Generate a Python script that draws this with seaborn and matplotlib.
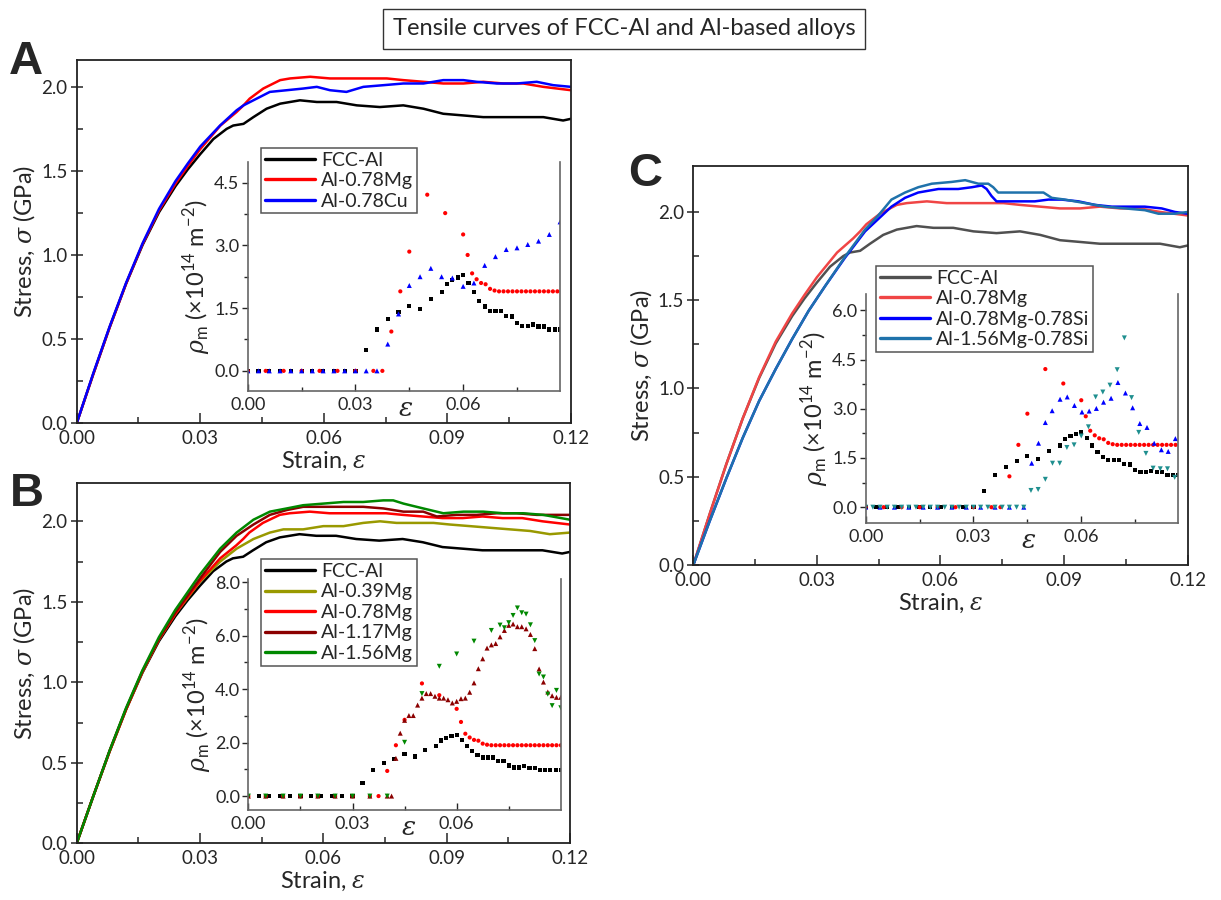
import matplotlib
matplotlib.use("Agg")
import matplotlib.pyplot as plt
from matplotlib.lines import Line2D
from matplotlib.ticker import FormatStrFormatter
import seaborn as sns

# ---------------- stress-strain curves (strain, stress in GPa) ----------------
fcc_strain = [0.0, 0.004, 0.008, 0.012, 0.016, 0.020, 0.024, 0.027, 0.030, 0.0332, 0.0364, 0.038,
              0.0405, 0.0429, 0.0461, 0.0494, 0.0542, 0.0583, 0.0631, 0.068, 0.0736, 0.0793, 0.0842,
              0.089, 0.0939, 0.0987, 0.1036, 0.1084, 0.1133, 0.1181, 0.12]
fcc_stress = [0.0, 0.29, 0.57, 0.83, 1.06, 1.255, 1.41, 1.51, 1.60, 1.69, 1.75, 1.77,
              1.78, 1.82, 1.87, 1.90, 1.92, 1.91, 1.91, 1.89, 1.88, 1.89, 1.87,
              1.84, 1.83, 1.82, 1.82, 1.82, 1.82, 1.80, 1.81]

mg078_strain = [0.0, 0.004, 0.008, 0.012, 0.016, 0.020, 0.024, 0.027, 0.030, 0.0349, 0.0388, 0.0405,
                0.042, 0.0453, 0.0494, 0.0518, 0.0567, 0.0615, 0.0664, 0.0712, 0.0753, 0.0793, 0.0842,
                0.089, 0.0939, 0.0987, 0.1036, 0.1084, 0.1133, 0.12]
mg078_stress = [0.0, 0.29, 0.57, 0.83, 1.065, 1.265, 1.425, 1.53, 1.63, 1.77, 1.85, 1.89,
                1.93, 1.99, 2.04, 2.05, 2.06, 2.05, 2.05, 2.05, 2.05, 2.04, 2.03,
                2.02, 2.02, 2.03, 2.02, 2.02, 2.00, 1.98]

cu078_strain = [0.0, 0.004, 0.008, 0.012, 0.016, 0.020, 0.024, 0.027, 0.030, 0.0348, 0.0388, 0.0405,
                0.0437, 0.0469, 0.051, 0.055, 0.0583, 0.0615, 0.0655, 0.0696, 0.0745, 0.0793, 0.0842,
                0.089, 0.0939, 0.0971, 0.102, 0.1068, 0.1117, 0.1157, 0.12]
cu078_stress = [0.0, 0.295, 0.575, 0.835, 1.07, 1.275, 1.44, 1.545, 1.645, 1.77, 1.86, 1.89,
                1.93, 1.97, 1.98, 1.99, 2.00, 1.98, 1.97, 2.00, 2.01, 2.02, 2.02,
                2.04, 2.04, 2.03, 2.02, 2.02, 2.03, 2.01, 2.00]

mg039_strain = [0.0, 0.004, 0.008, 0.012, 0.016, 0.020, 0.024, 0.027, 0.030, 0.0349, 0.0389, 0.043,
                0.047, 0.0503, 0.0551, 0.060, 0.0649, 0.0697, 0.0738, 0.0778, 0.0827, 0.0868, 0.0908,
                0.0957, 0.1005, 0.1054, 0.1103, 0.1151, 0.12]
mg039_stress = [0.0, 0.29, 0.57, 0.83, 1.065, 1.265, 1.425, 1.525, 1.625, 1.75, 1.83, 1.89,
                1.93, 1.95, 1.95, 1.97, 1.97, 1.99, 2.00, 1.99, 1.99, 1.99, 1.98,
                1.97, 1.96, 1.95, 1.94, 1.92, 1.93]

mg117_strain = [0.0, 0.004, 0.008, 0.012, 0.016, 0.020, 0.024, 0.027, 0.030, 0.0349, 0.0389, 0.043,
                0.047, 0.0511, 0.0551, 0.060, 0.0649, 0.0697, 0.0746, 0.0795, 0.0843, 0.0876, 0.0924,
                0.0973, 0.1022, 0.107, 0.1119, 0.12]
mg117_stress = [0.0, 0.29, 0.575, 0.835, 1.07, 1.27, 1.435, 1.54, 1.645, 1.81, 1.91, 1.98,
                2.04, 2.07, 2.09, 2.09, 2.09, 2.09, 2.08, 2.06, 2.06, 2.03, 2.04,
                2.04, 2.05, 2.05, 2.04, 2.04]

mg156_strain = [0.0, 0.004, 0.008, 0.012, 0.016, 0.020, 0.024, 0.027, 0.030, 0.0349, 0.0389, 0.043,
                0.047, 0.0511, 0.0551, 0.060, 0.0649, 0.0697, 0.0746, 0.077, 0.0795, 0.0843, 0.0892,
                0.0941, 0.0989, 0.1038, 0.1086, 0.1135, 0.12]
mg156_stress = [0.0, 0.29, 0.575, 0.84, 1.075, 1.28, 1.45, 1.56, 1.67, 1.83, 1.93, 2.01,
                2.06, 2.08, 2.10, 2.11, 2.12, 2.12, 2.13, 2.13, 2.11, 2.08, 2.05,
                2.06, 2.06, 2.05, 2.05, 2.04, 2.01]

mgsi_strain = [0.0, 0.004, 0.008, 0.012, 0.016, 0.020, 0.024, 0.028, 0.032, 0.0368, 0.0417, 0.0449,
               0.0481, 0.0514, 0.0546, 0.0595, 0.0643, 0.0676, 0.070, 0.0712, 0.0724, 0.0736, 0.0757,
               0.0789, 0.0829, 0.0862, 0.0894, 0.0935, 0.0975, 0.1016, 0.1056, 0.1096, 0.1137, 0.1169, 0.12]
mgsi_stress = [0.0, 0.25, 0.49, 0.72, 0.93, 1.11, 1.28, 1.44, 1.58, 1.74, 1.89, 1.96,
               2.03, 2.08, 2.11, 2.13, 2.13, 2.14, 2.15, 2.13, 2.09, 2.06, 2.06,
               2.06, 2.06, 2.07, 2.07, 2.06, 2.04, 2.03, 2.03, 2.03, 2.02, 2.00, 1.99]

mg156si_strain = [0.0, 0.004, 0.008, 0.012, 0.016, 0.020, 0.024, 0.028, 0.032, 0.0368, 0.0417, 0.0449,
                  0.0481, 0.0514, 0.0546, 0.0579, 0.0627, 0.066, 0.0692, 0.0716, 0.0728, 0.074, 0.0773,
                  0.0821, 0.085, 0.087, 0.0902, 0.0951, 0.0999, 0.1048, 0.1096, 0.1129, 0.1169, 0.12]
mg156si_stress = [0.0, 0.25, 0.49, 0.72, 0.93, 1.11, 1.28, 1.44, 1.58, 1.745, 1.90, 1.98,
                  2.07, 2.11, 2.14, 2.16, 2.17, 2.18, 2.16, 2.16, 2.14, 2.11, 2.11,
                  2.11, 2.11, 2.08, 2.07, 2.05, 2.03, 2.02, 2.01, 1.99, 1.99, 2.00]

# ---------------- mobile dislocation density (x10^14 m^-2) ----------------
fcc_rho_strain = [0.0, 0.003, 0.006, 0.009, 0.012, 0.015, 0.018, 0.021, 0.024, 0.027, 0.030,
                  0.0329, 0.0359, 0.039, 0.042, 0.045, 0.048, 0.051, 0.054, 0.0555, 0.057, 0.0585,
                  0.060, 0.0615, 0.063, 0.0645, 0.066, 0.0675, 0.069, 0.0705, 0.072, 0.0735, 0.075,
                  0.0765, 0.078, 0.0795, 0.081, 0.0825, 0.084, 0.0855, 0.087, 0.0885, 0.090]
fcc_rho = [0.0, 0.0, 0.0, 0.0, 0.0, 0.0, 0.0, 0.0, 0.0, 0.0, 0.0,
           0.50, 0.99, 1.23, 1.40, 1.56, 1.48, 1.72, 1.88, 2.08, 2.17, 2.23,
           2.29, 2.10, 1.88, 1.67, 1.54, 1.44, 1.44, 1.44, 1.32, 1.30, 1.14,
           1.07, 1.07, 1.11, 1.06, 1.06, 0.99, 0.99, 0.99, 0.99, 0.99]

mg078_rho_strain = [0.0, 0.005, 0.010, 0.015, 0.020, 0.025, 0.030, 0.035, 0.0375,
                    0.040, 0.0425, 0.045, 0.050, 0.055, 0.060, 0.06125, 0.0625, 0.06375, 0.065,
                    0.06625, 0.0675, 0.06875, 0.070, 0.07125, 0.0725, 0.07375, 0.075, 0.07625,
                    0.0775, 0.07875, 0.080, 0.08125, 0.0825, 0.08375, 0.085, 0.08625, 0.0875,
                    0.08875, 0.090]
mg078_rho = [0.0, 0.0, 0.0, 0.0, 0.0, 0.0, 0.0, 0.0, 0.0,
             0.94, 1.90, 2.85, 4.21, 3.77, 3.26, 2.77, 2.33, 2.19, 2.10,
             2.07, 1.96, 1.92, 1.90, 1.90, 1.90, 1.90, 1.90, 1.90,
             1.90, 1.90, 1.90, 1.90, 1.90, 1.90, 1.90, 1.90, 1.90,
             1.90, 1.90]

cu078_rho_strain = [0.0, 0.003, 0.006, 0.009, 0.012, 0.015, 0.018, 0.021, 0.024, 0.027, 0.030, 0.033,
                    0.036, 0.039, 0.042, 0.045, 0.048, 0.051, 0.054, 0.057, 0.060, 0.063, 0.066,
                    0.069, 0.072, 0.075, 0.078, 0.081, 0.084, 0.087]
cu078_rho = [0.0, 0.0, 0.0, 0.0, 0.0, 0.0, 0.0, 0.0, 0.0, 0.0, 0.0, 0.0,
             0.0, 0.64, 1.36, 2.04, 2.25, 2.45, 2.25, 2.22, 2.02, 2.10, 2.52,
             2.73, 2.90, 2.94, 3.02, 3.10, 3.26, 3.56]

mg117_rho_strain = [0.0, 0.005, 0.010, 0.015, 0.020, 0.025, 0.030, 0.035, 0.040, 0.04125,
                    0.0425, 0.04375, 0.045, 0.04625, 0.0475, 0.04875, 0.050, 0.05125, 0.0525,
                    0.05375, 0.055, 0.05625, 0.0575, 0.05875, 0.060, 0.06125, 0.0625, 0.06375,
                    0.065, 0.06625, 0.0675, 0.06875, 0.070, 0.07125, 0.0725, 0.07375, 0.075,
                    0.07625, 0.0775, 0.07875, 0.080, 0.08125, 0.0825, 0.08375, 0.085, 0.08625,
                    0.0875, 0.08875, 0.090]
mg117_rho = [0.0, 0.0, 0.0, 0.0, 0.0, 0.0, 0.0, 0.0, 0.0, 0.0,
             1.41, 2.35, 2.83, 3.01, 3.01, 3.40, 3.66, 3.83, 3.83,
             3.73, 3.66, 3.66, 3.60, 3.48, 3.54, 3.64, 3.66, 3.88,
             4.23, 4.76, 5.13, 5.53, 5.65, 5.70, 5.95, 6.19, 6.38,
             6.43, 6.33, 6.33, 6.25, 6.04, 5.51, 4.75, 4.26, 3.89,
             3.75, 3.69, 3.69]

mg156_rho_strain = [0.0, 0.005, 0.010, 0.015, 0.020, 0.025, 0.030, 0.035, 0.040,
                    0.045, 0.050, 0.055, 0.060, 0.065, 0.070, 0.0725, 0.07375, 0.075, 0.07625,
                    0.0775, 0.07875, 0.080, 0.08125, 0.0825, 0.08375, 0.085, 0.08625, 0.0875,
                    0.08875, 0.090]
mg156_rho = [0.0, 0.0, 0.0, 0.0, 0.0, 0.0, 0.0, 0.0, 0.0,
             2.01, 3.83, 4.85, 5.31, 5.79, 6.19, 6.39, 6.29, 6.48, 6.75,
             7.03, 6.85, 6.80, 6.40, 5.81, 4.56, 4.45, 3.81, 3.38,
             3.95, 3.30]

mgsi_rho_strain = [0.0, 0.004, 0.008, 0.012, 0.016, 0.020, 0.024, 0.028, 0.032, 0.036, 0.040, 0.044,
                   0.0462, 0.0481, 0.050, 0.0519, 0.0541, 0.0561, 0.0581, 0.0602, 0.0622, 0.0642,
                   0.0662, 0.0683, 0.0702, 0.0723, 0.0743, 0.0763, 0.0783, 0.0803, 0.0823, 0.0842,
                   0.0862]
mgsi_rho = [0.0, 0.0, 0.0, 0.0, 0.0, 0.0, 0.0, 0.0, 0.0, 0.0, 0.0, 0.0,
            1.34, 1.95, 2.58, 2.94, 3.29, 3.36, 3.10, 2.90, 2.93, 3.01,
            3.20, 3.32, 3.80, 3.48, 3.03, 2.55, 2.43, 1.95, 1.75, 1.70,
            2.09]

mg156si_rho_strain = [0.0, 0.002, 0.004, 0.006, 0.008, 0.010, 0.012, 0.014, 0.016, 0.018, 0.020,
                      0.022, 0.024, 0.026, 0.028, 0.030, 0.032, 0.034, 0.036, 0.038, 0.040, 0.042,
                      0.044, 0.046, 0.048, 0.050, 0.052, 0.054, 0.056, 0.058, 0.060, 0.062, 0.064,
                      0.066, 0.068, 0.070, 0.072, 0.074, 0.076, 0.078, 0.080, 0.082, 0.084, 0.086]
mg156si_rho = [0.0, 0.0, 0.0, 0.0, 0.0, 0.0, 0.0, 0.0, 0.0, 0.0, 0.0,
               0.0, 0.0, 0.0, 0.0, 0.0, 0.0, 0.0, 0.0, 0.0, 0.0, 0.0,
               0.0, 0.51, 0.54, 0.85, 1.34, 1.34, 1.82, 1.90, 2.17, 2.45, 3.36,
               3.51, 3.72, 4.19, 5.16, 3.34, 2.28, 1.64, 1.19, 1.17, 1.17, 0.91]

TITLE = "Tensile curves of FCC-Al and Al-based alloys"

sns.set_style("ticks")
plt.rcParams["font.family"] = ["Lato", "DejaVu Sans"]
plt.rcParams["mathtext.fontset"] = "custom"
plt.rcParams["mathtext.rm"] = "Lato"
plt.rcParams["mathtext.it"] = "DejaVu Serif:italic"
plt.rcParams["mathtext.bf"] = "Lato:bold"


def style_main(ax, ymax):
    ax.set_xlim(0, 0.12)
    ax.set_ylim(0, ymax)
    ax.set_xticks([0, 0.03, 0.06, 0.09, 0.12])
    ax.set_xticks([0.015, 0.045, 0.075, 0.105], minor=True)
    ax.set_yticks([0, 0.5, 1.0, 1.5, 2.0])
    ax.set_yticks([0.25, 0.75, 1.25, 1.75], minor=True)
    ax.xaxis.set_major_formatter(FormatStrFormatter("%.2f"))
    ax.yaxis.set_major_formatter(FormatStrFormatter("%.1f"))
    ax.tick_params(axis="x", which="major", direction="in", length=7, width=1.1, labelsize=13.5, pad=5)
    ax.tick_params(axis="x", which="minor", direction="in", length=4, width=1.1)
    ax.tick_params(axis="y", which="major", direction="inout", length=9, width=1.1, labelsize=13.5, pad=2)
    ax.tick_params(axis="y", which="minor", direction="in", length=4, width=1.1)
    for s in ax.spines.values():
        s.set_visible(True)
        s.set_linewidth(1.3)
        s.set_color("#222222")
    ax.set_xlabel(r"Strain, $\varepsilon$", fontsize=17, labelpad=2)
    ax.set_ylabel(r"Stress, $\sigma$ (GPa)", fontsize=17, labelpad=3)


def style_inset(ax, xmax, ylim, ymajor, yminor, eps_x):
    ax.set_facecolor("none")
    ax.set_xlim(0, xmax)
    ax.set_ylim(*ylim)
    ax.set_xticks([0, 0.03, 0.06])
    ax.set_xticks([0.015, 0.045, 0.075], minor=True)
    ax.set_yticks(ymajor)
    ax.set_yticks(yminor, minor=True)
    ax.xaxis.set_major_formatter(FormatStrFormatter("%.2f"))
    ax.yaxis.set_major_formatter(FormatStrFormatter("%.1f"))
    ax.tick_params(axis="x", which="major", direction="in", length=5, width=1, labelsize=13, pad=4)
    ax.tick_params(axis="x", which="minor", direction="in", length=3, width=1)
    ax.tick_params(axis="y", which="major", direction="out", length=4, width=1, labelsize=13, pad=2)
    ax.tick_params(axis="y", which="minor", direction="out", length=3, width=1)
    ax.spines["top"].set_visible(False)
    for k in ["left", "bottom", "right"]:
        ax.spines[k].set_visible(True)
        ax.spines[k].set_linewidth(1.2)
        ax.spines[k].set_color("#666666")
    ax.set_xlabel("")
    ax.set_ylabel(r"$\rho_{\mathrm{m}}$ (×10$^{14}$ m$^{-2}$)", fontsize=17, labelpad=1)
    ax.text(eps_x, -0.075, r"$\varepsilon$", transform=ax.transAxes, ha="center", va="center", fontsize=19)


def curve(ax, x, y, color):
    sns.lineplot(x=x, y=y, ax=ax, color=color, linewidth=1.8, sort=False, estimator=None)


def dots(ax, x, y, color, marker, size):
    sns.scatterplot(x=x, y=y, ax=ax, color=color, marker=marker, s=size, edgecolor="none",
                    linewidth=0, legend=False)


def add_legend(fig, names, colors, anchor):
    handles = [Line2D([0], [0], color=c, lw=2.4) for c in colors]
    leg = fig.legend(handles, names, loc="upper left", bbox_to_anchor=anchor, frameon=True,
                     fancybox=False, edgecolor="#555555", framealpha=1, fontsize=14,
                     handlelength=2.6, handletextpad=0.3, borderpad=0.2, labelspacing=0.18,
                     borderaxespad=0)
    leg.get_frame().set_linewidth(1.1)


fig = plt.figure(figsize=(12.21, 9), dpi=100)
axA = fig.add_axes([0.0628, 0.5297, 0.4048, 0.4037])
axB = fig.add_axes([0.0628, 0.0630, 0.4040, 0.4007])
axC = fig.add_axes([0.5678, 0.3722, 0.4049, 0.4433])
inA = fig.add_axes([0.2029, 0.5656, 0.2558, 0.2548])
inB = fig.add_axes([0.2034, 0.1000, 0.2559, 0.2563])
inC = fig.add_axes([0.7090, 0.4186, 0.2560, 0.2548])

# ---- panel A ----
curve(axA, fcc_strain, fcc_stress, "#000000")
curve(axA, mg078_strain, mg078_stress, "#ff0000")
curve(axA, cu078_strain, cu078_stress, "#0000ff")
style_main(axA, 2.16)
dots(inA, fcc_rho_strain, fcc_rho, "#000000", "s", 9)
dots(inA, mg078_rho_strain, mg078_rho, "#ff0000", "o", 9)
dots(inA, cu078_rho_strain, cu078_rho, "#0000ff", "^", 13)
style_inset(inA, 0.087, (-0.48, 5.0), [0, 1.5, 3.0, 4.5], [0.75, 2.25, 3.75], 0.504)
add_legend(fig, ["FCC-Al", "Al-0.78Mg", "Al-0.78Cu"], ["#000000", "#ff0000", "#0000ff"],
           (0.2138, 0.8359))

# ---- panel B ----
curve(axB, fcc_strain, fcc_stress, "#000000")
curve(axB, mg039_strain, mg039_stress, "#999900")
curve(axB, mg078_strain, mg078_stress, "#ff0000")
curve(axB, mg117_strain, mg117_stress, "#8b0000")
curve(axB, mg156_strain, mg156_stress, "#008800")
style_main(axB, 2.24)
dots(inB, fcc_rho_strain, fcc_rho, "#000000", "s", 9)
dots(inB, mg078_rho_strain, mg078_rho, "#ff0000", "o", 9)
dots(inB, mg117_rho_strain, mg117_rho, "#8b0000", "^", 13)
dots(inB, mg156_rho_strain, mg156_rho, "#008800", "v", 13)
style_inset(inB, 0.090, (-0.52, 8.1), [0, 2, 4, 6, 8], [1, 3, 5, 7], 0.513)
add_legend(fig, ["FCC-Al", "Al-0.39Mg", "Al-0.78Mg", "Al-1.17Mg", "Al-1.56Mg"],
           ["#000000", "#999900", "#ff0000", "#8b0000", "#008800"], (0.2138, 0.3789))

# ---- panel C ----
curve(axC, fcc_strain, fcc_stress, "#505050")
curve(axC, mg078_strain, mg078_stress, "#f04545")
curve(axC, mgsi_strain, mgsi_stress, "#0000ff")
curve(axC, mg156si_strain, mg156si_stress, "#1f72ab")
style_main(axC, 2.26)
dots(inC, fcc_rho_strain, fcc_rho, "#000000", "s", 9)
dots(inC, mg078_rho_strain, mg078_rho, "#ff0000", "o", 9)
dots(inC, mgsi_rho_strain, mgsi_rho, "#0000ff", "^", 13)
dots(inC, mg156si_rho_strain, mg156si_rho, "#1f8f8f", "v", 13)
style_inset(inC, 0.087, (-0.49, 6.5), [0, 1.5, 3.0, 4.5, 6.0], [0.75, 2.25, 3.75, 5.25], 0.52)
add_legend(fig, ["FCC-Al", "Al-0.78Mg", "Al-0.78Mg-0.78Si", "Al-1.56Mg-0.78Si"],
           ["#505050", "#f04545", "#0000ff", "#1f72ab"], (0.7174, 0.7048))

# ---- title and panel letters ----
fig.text(0.511, 0.968, TITLE, ha="center", va="center", fontsize=17,
         bbox=dict(boxstyle="square,pad=0.4", fc="white", ec="#333333", lw=1))
for letter, x, y in [("A", 0.0213, 0.931), ("B", 0.0221, 0.451), ("C", 0.528, 0.807)]:
    fig.text(x, y, letter, ha="center", va="center", fontsize=34, fontweight="bold",
             family="Liberation Sans")

fig.savefig("out.png", dpi=100, facecolor="white")
